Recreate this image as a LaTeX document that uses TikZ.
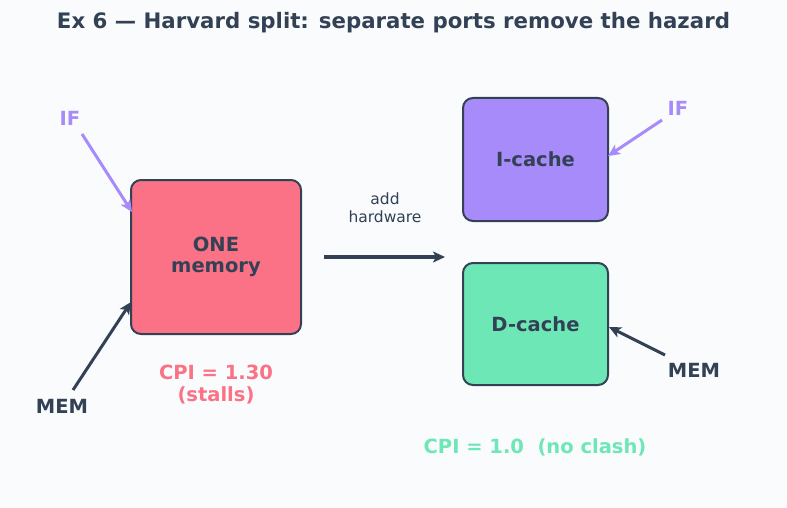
\documentclass[tikz,border=0pt]{standalone}
\usepackage{fontspec}
\setmainfont{DejaVu Sans}
\usetikzlibrary{arrows.meta}
\definecolor{bg}{HTML}{FAFBFD}
\definecolor{ink}{HTML}{334155}
\definecolor{rose}{HTML}{FB7185}
\definecolor{violet}{HTML}{A78BFA}
\definecolor{mint}{HTML}{6EE7B7}
\tikzset{
  box/.style={draw=ink, line width=2pt, rounded corners=10pt, inner sep=0pt, align=center, text=ink, font=\bfseries\fontsize{19.5}{21}\selectfont},
  lbl/.style={font=\bfseries\fontsize{19.5}{22}\selectfont, inner sep=0pt},
  arr/.style={line width=3pt, -{Stealth[length=12pt,width=11pt,inset=3pt]}},
}
\begin{document}
\begin{tikzpicture}[x=1pt,y=-1pt]
\fill[bg] (0,0) rectangle (787,508);
\useasboundingbox (0,0) rectangle (787,508);
\node[font=\bfseries\fontsize{21.3}{24}\selectfont, text=ink] (title) at (393.5,23) {Ex 6 — Harvard split: separate ports remove the hazard};

\node[box, fill=rose, minimum width=170pt, minimum height=154pt] (mem) at (216,257) {ONE\\memory};
\node[box, fill=violet, minimum width=145pt, minimum height=123pt] (ic) at (535.5,159.5) {I-cache};
\node[box, fill=mint, minimum width=145pt, minimum height=122pt] (dc) at (535.5,324) {D-cache};

\node[lbl, text=violet] (if1) at (70,118) {IF};
\node[lbl, text=ink] (mem1) at (62,406) {MEM};
\node[lbl, text=violet] (if2) at (678,108) {IF};
\node[lbl, text=ink] (mem2) at (694,370) {MEM};

\coordinate (if1s) at (82,134);
\coordinate (if1e) at (132,212);
\coordinate (mem1s) at (73,390);
\coordinate (mem1e) at (131,302);
\coordinate (if2s) at (662,120);
\coordinate (if2e) at (608,156);
\coordinate (mem2s) at (665,355);
\coordinate (mem2e) at (609,327);
\coordinate (hs) at (324,257);
\coordinate (he) at (445,257);

\draw[arr, violet] (if1s) -- (if1e);
\draw[arr, ink] (mem1s) -- (mem1e);
\draw[arr, violet] (if2s) -- (if2e);
\draw[arr, ink] (mem2s) -- (mem2e);
\draw[arr, ink, line width=3.5pt] (hs) -- (he);

\node[align=center, text=ink, font=\fontsize{15.5}{18}\selectfont] (add) at (385,208) {add\\hardware};
\node[align=center, text=rose, font=\bfseries\fontsize{19.5}{22}\selectfont] (cpi1) at (216,385) {CPI = 1.30\\(stalls)};
\node[text=mint, font=\bfseries\fontsize{19.5}{22}\selectfont] (cpi2) at (535,447) {CPI = 1.0\ \ (no clash)};
\end{tikzpicture}
\end{document}
